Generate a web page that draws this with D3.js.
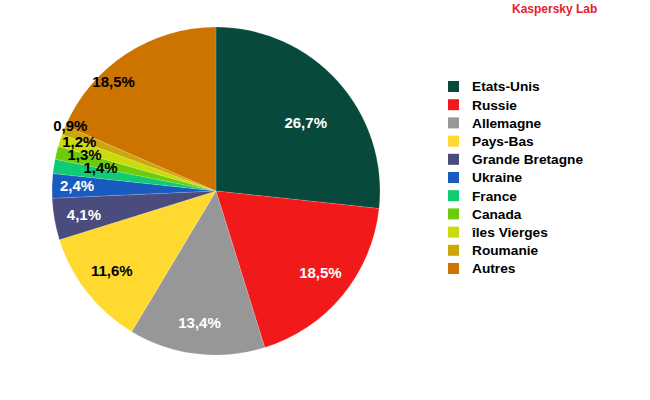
<!DOCTYPE html>
<html lang="fr">
<head>
<meta charset="UTF-8">
<title>Pays sources de spam</title>
<script src="https://cdn.jsdelivr.net/npm/d3@7"></script>
<style>
  body { margin: 0; background: #fff; }
  svg text { font-family: "Liberation Sans", Arial, sans-serif; font-weight: bold; }
</style>
</head>
<body>
<svg id="chart" width="650" height="400"></svg>
<script>
// Données
const countries = ['Etats-Unis', 'Russie', 'Allemagne', 'Pays-Bas', 'Grande Bretagne', 'Ukraine',
                   'France', 'Canada', 'îles Vierges', 'Roumanie', 'Autres'];
const shares = [26.7, 18.5, 13.4, 11.6, 4.1, 2.4, 1.4, 1.3, 1.2, 0.9, 18.5];
const colors = ['#074a3c', '#f2191b', '#979797', '#ffd92f', '#4b4c7e', '#1a5bbf',
                '#0fcb72', '#6ecb0a', '#c9dc0b', '#cda70a', '#cc7300'];

// Mise en page
const cx = 216, cy = 191, radius = 164, labelRadius = 130;
const whiteLabel = [true, true, true, false, true, true, false, false, false, false, false];
// décalages des étiquettes (placement "meilleur ajustement")
const labelShift = [[-7, 18], [4, -1], [-1, 3], [-2, -1], [-4, 1], [-9, -1],
                    [13, -4], [-5, -6], [-13, -9], [-25, -17], [-31, -1]];

const svg = d3.select('#chart');
const data = countries.map((c, i) => ({ country: c, value: shares[i], i }));

const pie = d3.pie().value(d => d.value).sort(null);
const arcs = pie(data);
const arc = d3.arc().innerRadius(0).outerRadius(radius);
const labelArc = d3.arc().innerRadius(labelRadius).outerRadius(labelRadius);

const g = svg.append('g').attr('transform', `translate(${cx},${cy})`);

g.selectAll('path')
  .data(arcs)
  .enter()
  .append('path')
  .attr('d', arc)
  .attr('fill', d => colors[d.data.i])
  .attr('stroke', 'rgba(255,255,255,0.35)')
  .attr('stroke-width', 0.4);

g.selectAll('.slice-label')
  .data(arcs)
  .enter()
  .append('text')
  .attr('class', 'slice-label')
  .attr('transform', d => {
    const [x, y] = labelArc.centroid(d);
    const s = labelShift[d.data.i];
    return `translate(${x + s[0]},${y + s[1]})`;
  })
  .attr('text-anchor', 'middle')
  .attr('dy', '0.36em')
  .style('font-size', '15px')
  .style('fill', d => whiteLabel[d.data.i] ? '#fff' : '#000')
  .text(d => d3.format('.1f')(d.data.value).replace('.', ',') + '%');

// Légende
const legend = svg.append('g').attr('transform', 'translate(448, 81)');
const rowH = 18.2;

countries.forEach((c, i) => {
  const item = legend.append('g').attr('transform', `translate(0, ${i * rowH})`);
  item.append('rect')
    .attr('width', 11)
    .attr('height', 11)
    .attr('fill', colors[i]);
  item.append('text')
    .attr('x', 24)
    .attr('y', 5.5)
    .attr('dy', '0.36em')
    .style('font-size', '13.7px')
    .style('fill', '#000')
    .text(c);
});

// Signature
svg.append('text')
  .attr('x', 512)
  .attr('y', 8.5)
  .attr('dy', '0.36em')
  .style('font-size', '12px')
  .style('fill', '#e8202a')
  .text('Kaspersky Lab');
</script>
</body>
</html>
